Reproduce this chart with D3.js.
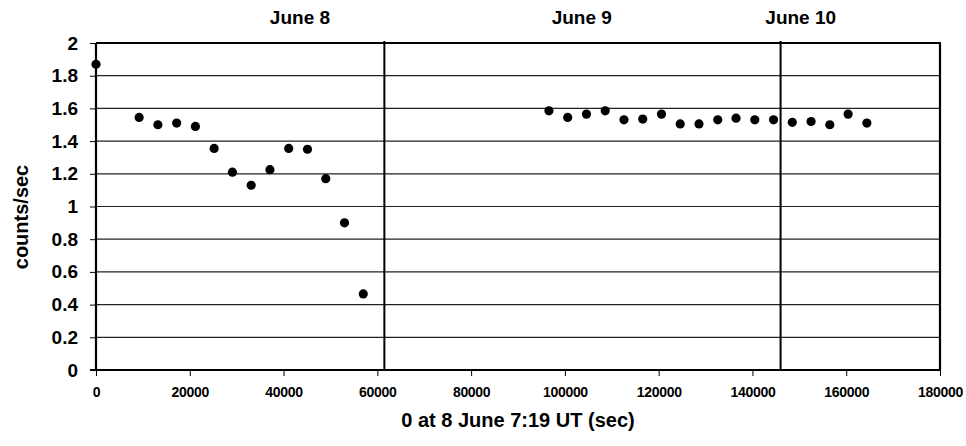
<!DOCTYPE html>
<html><head><meta charset="utf-8">
<script src="https://cdn.jsdelivr.net/npm/d3@7"></script>
<style>body{margin:0;background:#fff}svg{display:block}text{font-family:"Liberation Sans",Arial,sans-serif;font-weight:bold;fill:#000}</style>
</head><body>
<svg id="c" width="966" height="446"></svg>
<script>
const timeSec = [0,9200,13200,17200,21200,25200,29100,33100,37100,41100,45100,49000,53000,57000,
  96600,100600,104600,108600,112600,116600,120600,124600,128600,132600,136500,140500,144500,148500,152500,156500,160400,164400];
const countsPerSec = [1.87,1.545,1.50,1.51,1.49,1.355,1.21,1.13,1.225,1.355,1.35,1.17,0.90,0.465,
  1.585,1.545,1.565,1.585,1.53,1.535,1.565,1.505,1.505,1.53,1.54,1.53,1.53,1.515,1.52,1.50,1.565,1.51];
const xTicks = [0,20000,40000,60000,80000,100000,120000,140000,160000,180000];
const yTicks = [0,0.2,0.4,0.6,0.8,1,1.2,1.4,1.6,1.8,2];
const dayBoundaries = [61500,146000];
const dayLabels = ["June 8","June 9","June 10"];
const dayLabelPos = [43500,103600,150300];

const svg = d3.select("#c");
const L=96,R=940,T=43,B=370;
const x = d3.scaleLinear().domain([0,180000]).range([L,R]);
const y = d3.scaleLinear().domain([0,2]).range([B,T]);

// gridlines
svg.append("g").selectAll("line").data(yTicks.filter(d=>d>0&&d<2)).join("line")
  .attr("x1",L).attr("x2",R).attr("y1",d=>y(d)).attr("y2",d=>y(d))
  .attr("stroke","#222").attr("stroke-width",1.2);

// frame top/right
svg.append("line").attr("x1",L).attr("x2",R+1).attr("y1",T).attr("y2",T).attr("stroke","#000").attr("stroke-width",2.2);
svg.append("line").attr("x1",R).attr("x2",R).attr("y1",T).attr("y2",B).attr("stroke","#000").attr("stroke-width",2.2);

// day boundaries
svg.append("g").selectAll("line").data(dayBoundaries).join("line")
  .attr("x1",d=>x(d)).attr("x2",d=>x(d)).attr("y1",T-2).attr("y2",B)
  .attr("stroke","#000").attr("stroke-width",2);

// axes
const xAxis = svg.append("g").attr("transform",`translate(0,${B})`)
  .call(d3.axisBottom(x).tickValues(xTicks).tickFormat(d3.format("d")).tickSize(6).tickPadding(11));
xAxis.select(".domain").attr("stroke-width",2.2).attr("d",`M${L-6},0H${R}`);
xAxis.selectAll("text").style("font-size","14px").style("letter-spacing","-0.3px");
const yAxis = svg.append("g").attr("transform",`translate(${L},0)`)
  .call(d3.axisLeft(y).tickValues(yTicks).tickFormat(d=>String(d)).tickSize(6).tickPadding(12));
yAxis.select(".domain").attr("stroke-width",2.2).attr("d",`M0,${T}V${B}`);
yAxis.selectAll("text").style("font-size","19px");

// points
svg.append("g").selectAll("circle").data(timeSec).join("circle")
  .attr("cx",d=>x(d)).attr("cy",(d,i)=>y(countsPerSec[i])).attr("r",4.6).attr("fill","#000");

// day labels
svg.append("g").selectAll("text").data(dayLabels).join("text")
  .attr("x",(d,i)=>x(dayLabelPos[i])).attr("y",24).attr("text-anchor","middle")
  .style("font-size","19px").text(d=>d);

// axis titles
svg.append("text").attr("x",(L+R)/2).attr("y",427).attr("text-anchor","middle")
  .style("font-size","20px").text("0 at 8 June 7:19 UT (sec)");
svg.append("text").attr("transform","translate(28,217) rotate(-90)").attr("text-anchor","middle")
  .style("font-size","20px").text("counts/sec");
</script>
</body></html>
